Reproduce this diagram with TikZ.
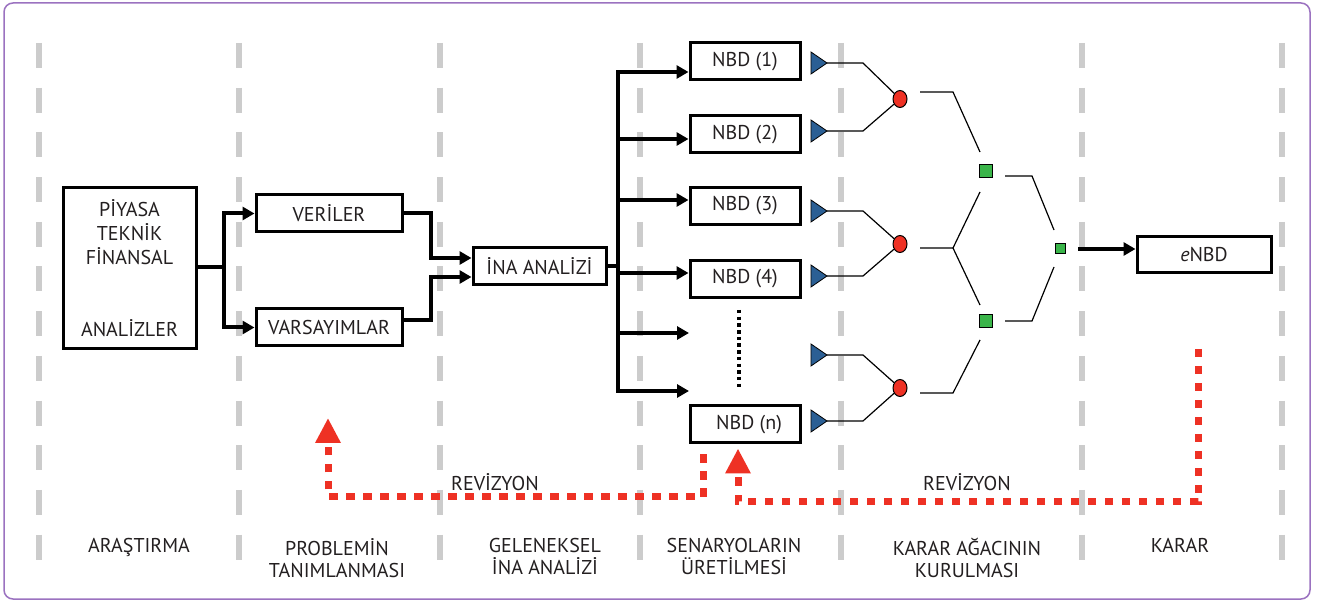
\documentclass[tikz,border=0pt]{standalone}
\usepackage{fontspec}
\setmainfont{PT Sans}
\usetikzlibrary{arrows.meta,shapes.geometric}
\definecolor{framecol}{HTML}{9B72C0}
\definecolor{lanecol}{HTML}{CCCCCC}
\definecolor{txtcol}{HTML}{231F20}
\definecolor{tricol}{HTML}{2B5F94}
\definecolor{chancecol}{HTML}{EE3124}
\definecolor{deccol}{HTML}{3AB54A}
\definecolor{revcol}{HTML}{EE3124}
\begin{document}
\begin{tikzpicture}[x=1pt,y=-1pt,
  every node/.style={text=txtcol, font=\fontsize{20}{24}\selectfont},
  box/.style={draw=black, line width=3pt, inner sep=0pt, align=center},
  lane/.style={draw=lanecol, line width=6pt, dash pattern=on 25pt off 19.7pt},
  conn/.style={draw=black, line width=4pt},
  arr/.style={conn, -{Triangle[length=12pt,width=13pt]}},
  treeline/.style={draw=black, line width=1.2pt},
  tri/.style={fill=tricol, draw=black, line width=0.8pt, line join=miter},
  chance/.style={ellipse, fill=chancecol, draw=black, line width=1pt, minimum width=14pt, minimum height=17pt, inner sep=0pt},
  dec/.style={rectangle, fill=deccol, draw=black, line width=1pt, inner sep=0pt},
  revline/.style={draw=revcol, line width=7pt, dash pattern=on 8.5pt off 8.5pt, -{Triangle[length=25pt,width=24pt]}},
  revtxt/.style={font=\fontsize{20}{24}\selectfont},
  lanelabel/.style={anchor=north, align=center, font=\fontsize{20}{22}\selectfont}
]
\useasboundingbox (0,0) rectangle (1318,601);
\draw[framecol, line width=1.5pt, rounded corners=9pt] (4,3) rectangle (1310,599);

% lanes
\foreach \x in {39,239,440,640,841,1082,1282}
  \draw[lane] (\x,43) -- (\x,560);

% boxes
\node[box, minimum width=133pt, minimum height=161pt] (piyasa) at (129.5,268.5)
  {PİYASA\\TEKNİK\\FİNANSAL\\[48pt]ANALİZLER};
\node[box, minimum width=146pt, minimum height=37pt] (veriler) at (329,213.5) {VERİLER};
\node[box, minimum width=146pt, minimum height=37pt] (varsayim) at (329,327.5) {VARSAYIMLAR};
\node[box, minimum width=133pt, minimum height=37pt] (ina) at (539.5,266.5) {İNA ANALİZİ};
\node[box, minimum width=110pt, minimum height=37pt] (n1) at (745,61.5) {NBD (1)};
\node[box, minimum width=110pt, minimum height=37pt] (n2) at (745,134.5) {NBD (2)};
\node[box, minimum width=110pt, minimum height=37pt] (n3) at (745,206) {NBD (3)};
\node[box, minimum width=110pt, minimum height=37pt] (n4) at (745,279) {NBD (4)};
\node[box, minimum width=110pt, minimum height=37pt] (nn) at (745,424.5) {\hspace{8pt}NBD (n)};
\node[box, minimum width=134pt, minimum height=36pt] (enbd) at (1204,255) {\textit{e}NBD};

% research -> data / assumptions
\coordinate (j1) at (224,267);
\draw[conn] (piyasa.east |- j1) -- (j1);
\draw[arr] (j1) |- (veriler.west);
\draw[arr] (j1) |- (varsayim.west);

% data / assumptions -> INA
\coordinate (v1) at (431,258);
\coordinate (v2) at (431,277);
\draw[arr] (veriler.east) -| (v1) -- (v1 -| ina.west);
\draw[arr] ([yshift=7pt]varsayim.east) -| (v2) -- (v2 -| ina.west);

% INA -> scenarios
\coordinate (tr) at (618,266.5);
\coordinate (e1) at (689,333);
\coordinate (e2) at (689,391);
\draw[conn] (ina.east) -- (tr);
\draw[arr] (tr) |- ([yshift=-10.5pt]n1.west);
\draw[arr] (tr) |- (e2);
\draw[arr] (tr |- n2.west) ++(0,4.5) -- ([yshift=-4.5pt]n2.west);
\draw[arr] (tr |- n3.west) ++(0,-6) -- ([yshift=6pt]n3.west);
\draw[arr] (tr |- n4.west) ++(0,-6) -- ([yshift=6pt]n4.west);
\draw[arr] (tr |- e1) -- (e1);
\coordinate (d1) at (739,310);
\coordinate (d2) at (739,389);
\draw[black, line width=4pt, dash pattern=on 3.5pt off 3.2pt] (d1) -- (d2);

% triangles
\foreach \n/\y in {1/63,2/131,3/211,4/276,5/355,6/421}{
  \coordinate (t\n) at (827,\y);
  \filldraw[tri] (t\n) -- ++(-16,-11) -- ++(0,22) -- cycle;
}
% chance nodes
\node[chance] (c1) at (900,99) {};
\node[chance] (c2) at (900,244) {};
\node[chance] (c3) at (900,388) {};
% decision nodes
\node[dec, minimum size=13pt] (s1) at (986,171) {};
\node[dec, minimum size=13pt] (s2) at (986,321) {};
\node[dec, minimum size=10pt] (s3) at (1060,249) {};

% tree lines
\draw[treeline] (t1) -- ++(36,0) -- (c1);
\draw[treeline] (t2) -- ++(36,0) -- (c1);
\draw[treeline] (t3) -- ++(36,0) -- (c2);
\draw[treeline] (t4) -- ++(36,0) -- (c2);
\draw[treeline] (t5) -- ++(36,0) -- (c3);
\draw[treeline] (t6) -- ++(36,0) -- (c3);

\draw[treeline] (c1.center) ++(20,-7) -- ++(33,0) -- (980,152);
\draw[treeline] (c2.center) ++(20,4) coordinate (k2) -- ++(33,0) coordinate (k3) -- (980,192);
\draw[treeline] (k3) -- (980,305);
\draw[treeline] (c3.center) ++(20,5) -- ++(33,0) -- (980,340);
\draw[treeline] (s1.center) ++(19,5) -- ++(27,0) -- (1054,230);
\draw[treeline] (s2.center) ++(19,0) -- ++(27,0) -- (1054,267);

\draw[arr] ([xshift=18pt]s3.center) -- ([yshift=6pt]enbd.west);

% revision loops
\coordinate (r1) at ([xshift=-42pt,yshift=-10pt]nn.south);
\coordinate (r1a) at (328,418);
\draw[revline] (r1) -- (r1 |- 0,497) -- (r1a |- 0,497) -- (r1a);
\node[revtxt] (rev1) at (495,482) {REVİZYON};

\coordinate (r2) at (1198,349);
\coordinate (r2a) at ([xshift=-7pt,yshift=-4pt]nn.south);
\draw[revline] (r2) -- (r2 |- 0,502) -- (r2a |- 0,502) -- (r2a);
\node[revtxt] (rev2) at (967,482) {REVİZYON};

% lane labels
\node[lanelabel] (l1) at (139,535) {ARAŞTIRMA};
\node[lanelabel] (l2) at (337,535) {PROBLEMİN\\TANIMLANMASI};
\node[lanelabel] (l3) at (545,535) {GELENEKSEL\\İNA ANALİZİ};
\node[lanelabel] (l4) at (734,535) {SENARYOLARIN\\ÜRETİLMESİ};
\node[lanelabel] (l5) at (967,535) {KARAR AĞACININ\\KURULMASI};
\node[lanelabel] (l6) at (1180,535) {KARAR};
\end{tikzpicture}
\end{document}
